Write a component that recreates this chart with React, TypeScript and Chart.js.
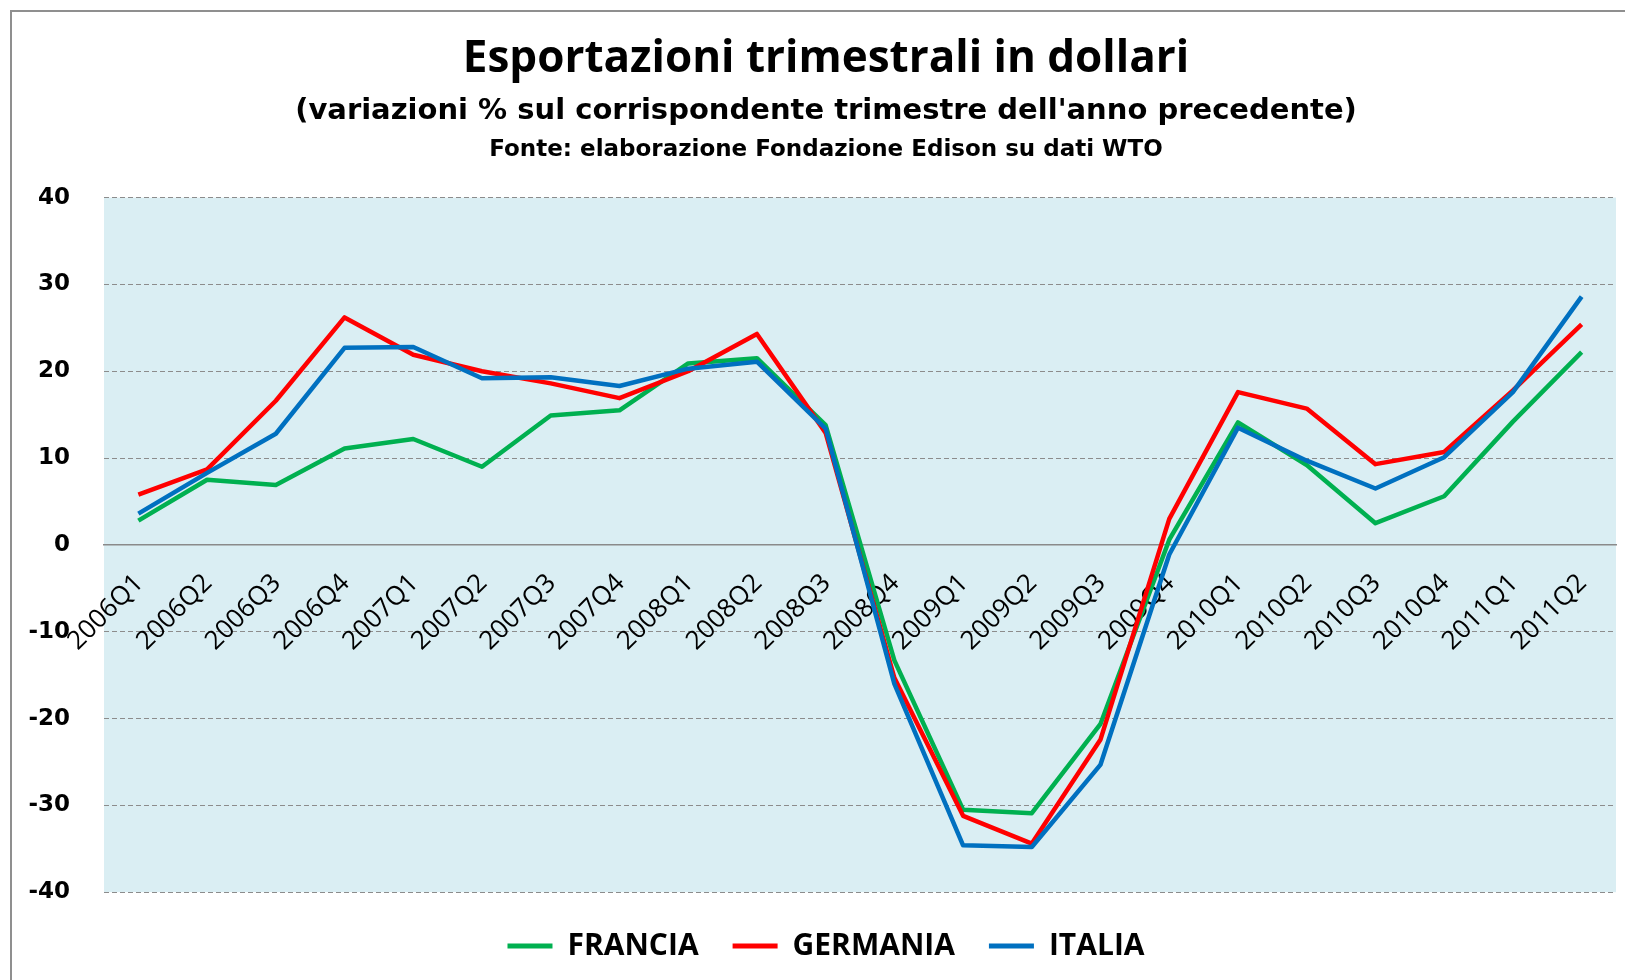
import React, { useEffect, useRef } from "react";
import { Chart, registerables } from "chart.js";

Chart.register(...registerables);

const quarters = [
  "2006Q1", "2006Q2", "2006Q3", "2006Q4",
  "2007Q1", "2007Q2", "2007Q3", "2007Q4",
  "2008Q1", "2008Q2", "2008Q3", "2008Q4",
  "2009Q1", "2009Q2", "2009Q3", "2009Q4",
  "2010Q1", "2010Q2", "2010Q3", "2010Q4",
  "2011Q1", "2011Q2",
];

const francia = [2.8, 7.5, 6.9, 11.1, 12.2, 9.0, 14.9, 15.5, 20.9, 21.5, 13.8, -13.3, -30.5, -30.9, -20.6, 0.6, 14.1, 9.2, 2.5, 5.6, 14.2, 22.2];
const germania = [5.8, 8.7, 16.6, 26.2, 21.9, 20.0, 18.6, 16.9, 20.0, 24.3, 12.9, -15.3, -31.2, -34.4, -22.4, 3.0, 17.6, 15.7, 9.3, 10.7, 17.8, 25.4];
const italia = [3.6, 8.3, 12.8, 22.7, 22.8, 19.2, 19.3, 18.3, 20.3, 21.1, 13.4, -16.0, -34.6, -34.8, -25.3, -1.1, 13.5, 9.7, 6.5, 10.1, 17.6, 28.6];

const seriesNames = ["FRANCIA", "GERMANIA", "ITALIA"];
const seriesColors = ["#00B050", "#FF0000", "#0070C0"];

const yMin = -40;
const yMax = 40;
const yStep = 10;

const titleText = "Esportazioni trimestrali in dollari";
const subtitleText = "(variazioni % sul corrispondente trimestre dell'anno precedente)";
const sourceText = "Fonte: elaborazione Fondazione Edison su dati WTO";

const CANVAS_W = 1628;
const CANVAS_H = 969;

const plotBackground = {
  id: "plotBackground",
  beforeDraw(chart: any) {
    const { ctx, chartArea } = chart;
    ctx.save();
    ctx.fillStyle = "#DAEEF3";
    ctx.fillRect(chartArea.left, chartArea.top, chartArea.right - chartArea.left, chartArea.bottom - chartArea.top);
    ctx.restore();
  },
};

const sourceLine = {
  id: "sourceLine",
  afterDraw(chart: any) {
    const { ctx, chartArea } = chart;
    ctx.save();
    ctx.font = "bold 23px 'DejaVu Sans'";
    ctx.fillStyle = "#000";
    ctx.textAlign = "center";
    ctx.textBaseline = "middle";
    ctx.fillText(sourceText, chart.width / 2, chartArea.top - 48);
    ctx.restore();
  },
};

export default function App() {
  const canvasRef = useRef<HTMLCanvasElement | null>(null);

  useEffect(() => {
    const canvas = canvasRef.current;
    if (!canvas) return;
    const values = [francia, germania, italia];
    const chart = new Chart(canvas, {
      type: "line",
      data: {
        labels: quarters,
        datasets: values.map((v, i) => ({
          label: seriesNames[i],
          data: v,
          borderColor: seriesColors[i],
          backgroundColor: seriesColors[i],
          borderWidth: 4.5,
          pointRadius: 0,
          pointHoverRadius: 0,
          tension: 0,
          fill: false,
          borderJoinStyle: "round" as const,
          yAxisID: "y",
          order: 3 - i,
        })),
      },
      options: {
        responsive: false,
        animation: false,
        devicePixelRatio: 1,
        events: [],
        layout: { padding: { left: 0, right: 0, top: 0, bottom: 10 } },
        scales: {
          x: {
            type: "category",
            position: { y: 0 } as any,
            offset: true,
            grid: { display: false, drawTicks: false, drawOnChartArea: false },
            border: { display: true, color: "#8a8a8a", width: 1.5 },
            ticks: {
              autoSkip: false,
              maxRotation: 45,
              minRotation: 45,
              padding: 23,
              labelOffset: 1,
              color: "#000",
              font: { family: "'Open Sans'", size: 26, weight: "normal" },
            },
          },
          y: {
            type: "linear",
            position: "left",
            min: yMin,
            max: yMax,
            afterFit(scale: any) {
              scale.width = 92;
            },
            ticks: {
              stepSize: yStep,
              padding: 34,
              color: "#000",
              font: { family: "'DejaVu Sans'", size: 23, weight: "bold" },
            },
            grid: { color: "#8c8c8c", lineWidth: 1, drawTicks: false },
            border: { display: false, dash: [5, 3] },
          },
          yRightSpace: {
            type: "linear",
            position: "right",
            display: true,
            afterFit(scale: any) {
              scale.width = 24;
            },
            ticks: { display: false },
            grid: { display: false, drawTicks: false, drawOnChartArea: false },
            border: { display: false },
          },
        },
        plugins: {
          title: {
            display: true,
            text: titleText,
            color: "#000",
            font: { family: "'Open Sans'", size: 44, weight: "bold" },
            padding: { top: 21, bottom: 8 },
          },
          subtitle: {
            display: true,
            text: subtitleText,
            color: "#000",
            font: { family: "'DejaVu Sans'", size: 29, weight: "bold" },
            padding: { top: 0, bottom: 69 },
          },
          legend: {
            display: true,
            position: "bottom",
            title: { display: true, text: "", padding: 0, font: { size: 4 } },
            labels: {
              boxWidth: 45,
              boxHeight: 5,
              padding: 34,
              color: "#000",
              font: { family: "'Open Sans'", size: 30, weight: "bold" },
              sort: (a: any, b: any) => a.datasetIndex - b.datasetIndex,
              generateLabels(ch: any) {
                const base = Chart.defaults.plugins.legend.labels.generateLabels(ch);
                return base.map((item: any) => ({
                  ...item,
                  fillStyle: seriesColors[item.datasetIndex],
                  strokeStyle: seriesColors[item.datasetIndex],
                  lineWidth: 0,
                }));
              },
            },
          },
          tooltip: { enabled: false },
        },
      },
      plugins: [plotBackground, sourceLine],
    });
    return () => chart.destroy();
  }, []);

  return (
    <div
      style={{
        position: "fixed",
        left: 0,
        top: 0,
        width: 1625,
        height: 980,
        overflow: "hidden",
        background: "#fff",
      }}
    >
      <div
        style={{
          position: "absolute",
          left: 10,
          top: 10,
          width: 1660,
          height: 1000,
          borderLeft: "2px solid #8f8f8f",
          borderTop: "2px solid #8f8f8f",
          background: "#fff",
        }}
      >
        <canvas
          ref={canvasRef}
          width={CANVAS_W}
          height={CANVAS_H}
          style={{ display: "block", width: CANVAS_W, height: CANVAS_H }}
        />
      </div>
    </div>
  );
}
